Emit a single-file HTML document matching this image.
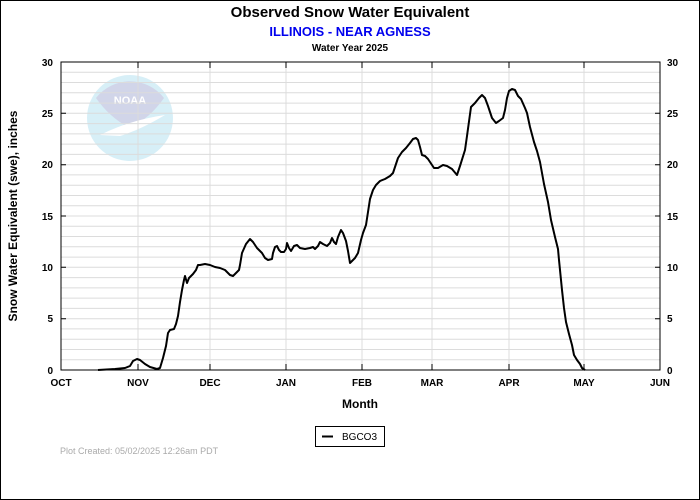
<!DOCTYPE html>
<html><head><meta charset="utf-8"><style>
body{margin:0;background:#fff;width:700px;height:500px;overflow:hidden}
svg{display:block;font-family:"Liberation Sans",Arial,sans-serif}
</style></head><body>
<svg width="700" height="500" viewBox="0 0 700 500">
<rect x="0" y="0" width="700" height="500" fill="#fff"/>
<rect x="0.5" y="0.5" width="699" height="499" fill="none" stroke="#000"/>
<text x="350" y="17" font-size="15" font-weight="bold" text-anchor="middle">Observed Snow Water Equivalent</text>
<text x="350" y="36" font-size="13" font-weight="bold" fill="#0000ee" text-anchor="middle">ILLINOIS - NEAR AGNESS</text>
<text x="350" y="51" font-size="10" font-weight="bold" text-anchor="middle">Water Year 2025</text>
<!-- NOAA logo -->
<g opacity="0.45">
<circle cx="130" cy="118" r="43" fill="#a8dcef"/>
<path d="M96,98 A43,43 0 0 1 164,98 Q150,118 130,128 Q110,118 96,98Z" fill="#9aa3d0"/>
<path d="M100,135 Q130,120 165,115 Q140,130 120,136Z" fill="#fff"/>
<text x="130" y="104" font-size="11" font-weight="bold" fill="#fff" text-anchor="middle">NOAA</text>
</g>
<g id="grid" stroke="#dcdcdc" stroke-width="1">
<path d="M61,72.3H660M61,82.5H660M61,92.8H660M61,103.1H660M61,113.3H660M61,123.6H660M61,133.9H660M61,144.1H660M61,154.4H660M61,164.7H660M61,174.9H660M61,185.2H660M61,195.5H660M61,205.7H660M61,216H660M61,226.3H660M61,236.5H660M61,246.8H660M61,257.1H660M61,267.3H660M61,277.6H660M61,287.9H660M61,298.1H660M61,308.4H660M61,318.7H660M61,328.9H660M61,339.2H660M61,349.5H660M61,359.7H660"/>
<path d="M138,62V370M210,62V370M286,62V370M362,62V370M432,62V370M509,62V370M584,62V370"/>
</g>
<rect x="61" y="62" width="599" height="308" fill="none" stroke="#000"/>
<g stroke="#000">
<path d="M61,62h5M61,113.3h5M61,164.7h5M61,216h5M61,267.3h5M61,318.7h5M660,62h-5M660,113.3h-5M660,164.7h-5M660,216h-5M660,267.3h-5M660,318.7h-5"/>
<path d="M138,370v-6M210,370v-6M286,370v-6M362,370v-6M432,370v-6M509,370v-6M584,370v-6M138,62v6M210,62v6M286,62v6M362,62v6M432,62v6M509,62v6M584,62v6"/>
</g>
<g font-size="10" font-weight="bold" text-anchor="end">
<text x="53" y="66">30</text><text x="53" y="117">25</text><text x="53" y="168">20</text><text x="53" y="220">15</text><text x="53" y="271">10</text><text x="53" y="322">5</text><text x="53" y="374">0</text>
</g>
<g font-size="10" font-weight="bold">
<text x="667" y="66">30</text><text x="667" y="117">25</text><text x="667" y="168">20</text><text x="667" y="220">15</text><text x="667" y="271">10</text><text x="667" y="322">5</text><text x="667" y="374">0</text>
</g>
<g font-size="10" font-weight="bold" text-anchor="middle">
<text x="61" y="386">OCT</text><text x="138" y="386">NOV</text><text x="210" y="386">DEC</text><text x="286" y="386">JAN</text><text x="362" y="386">FEB</text><text x="432" y="386">MAR</text><text x="509" y="386">APR</text><text x="584" y="386">MAY</text><text x="660" y="386">JUN</text>
</g>
<text x="360" y="408" font-size="12" font-weight="bold" text-anchor="middle">Month</text>
<text transform="translate(17,216) rotate(-90)" font-size="12" font-weight="bold" text-anchor="middle">Snow Water Equivalent (swe),  inches</text>
<polyline fill="none" stroke="#000" stroke-width="2" stroke-linejoin="round" points="98,370 115,369 125,368 130,366 133,361 137,359 140,360 145,364 150,367 157,369 160,368 163,358 166,346 168,333 170,330 174,329 176,324 178,316 180,302 182,290 184,280 185,276 187,283 189,278 193,274 196,270 198,265 200,265 205,264 210,265 215,267 220,268 225,270 230,275 233,276 236,273 239,270 240,265 242,253 246,244 250,239 253,242 257,248 262,253 265,258 268,260 272,259 273,253 275,247 277,246 279,250 281,252 284,252 286,249 287,243 289,248 291,251 294,246 297,245 300,248 305,249 310,248 313,247 315,249 318,246 320,242 323,244 327,246 330,243 332,238 334,242 336,244 338,237 341,230 343,233 346,241 348,251 350,263 352,261 355,258 358,253 361,240 363,233 366,225 368,212 370,199 373,190 376,185 380,181 385,179 390,176 393,173 395,167 398,158 402,152 406,148 410,143 413,139 416,138 418,140 420,147 422,155 425,156 428,159 432,165 434,168 438,168 443,165 447,166 452,169 457,175 460,166 465,150 467,136 471,107 475,103 479,98 482,95 485,98 488,106 492,118 496,123 499,121 503,118 505,110 507,98 509,91 512,89 515,90 518,96 521,99 525,108 527,113 530,127 534,142 537,151 540,162 544,184 548,202 551,220 555,237 558,249 559,260 560,270 562,290 564,308 566,322 569,334 572,345 574,355 577,360 580,364 582,368 585,370"/>
<rect x="315.5" y="426.5" width="69" height="20" fill="#fff" stroke="#000"/>
<path d="M322,436.5h11" stroke="#000" stroke-width="2"/>
<text x="342" y="440" font-size="10">BGCO3</text>
<text x="60" y="454" font-size="9" fill="#aaa">Plot Created:  05/02/2025 12:26am PDT</text>
</svg>
</body></html>
